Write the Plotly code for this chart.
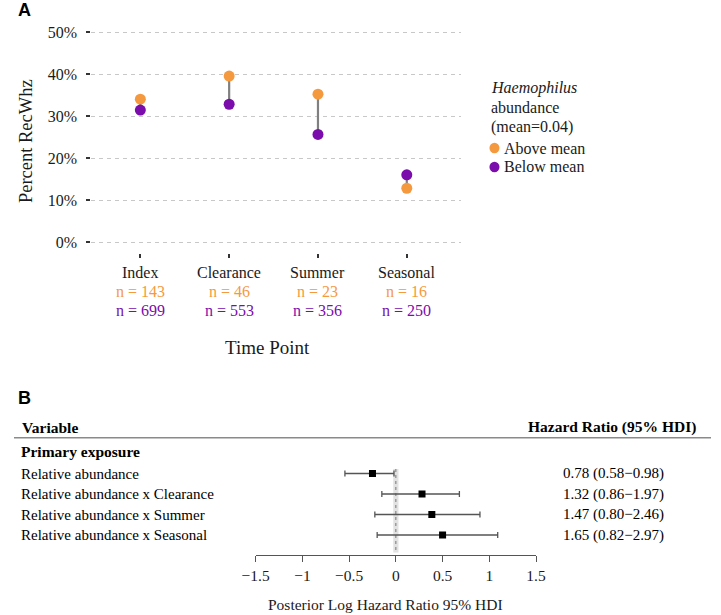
import plotly.graph_objects as go

# ---------------- data ----------------
categories = ["Index", "Clearance", "Summer", "Seasonal"]
above_pct = [34.0, 39.5, 35.2, 12.8]
below_pct = [31.4, 32.8, 25.6, 16.0]
n_above = [143, 46, 23, 16]
n_below = [699, 553, 356, 250]
y_ticks = [0, 10, 20, 30, 40, 50]
y_tick_labels = ["0%", "10%", "20%", "30%", "40%", "50%"]
legend_title = ["<i>Haemophilus</i>", "abundance", "(mean=0.04)"]
legend_labels = ["Above mean", "Below mean"]

variables = ["Relative abundance", "Relative abundance x Clearance",
             "Relative abundance x Summer", "Relative abundance x Seasonal"]
log_hr = [-0.25, 0.28, 0.385, 0.50]
log_lo = [-0.545, -0.15, -0.225, -0.20]
log_hi = [-0.02, 0.68, 0.90, 1.09]
hr_text = ["0.78 (0.58\u22120.98)", "1.32 (0.86\u22121.97)",
           "1.47 (0.80\u22122.46)", "1.65 (0.82\u22122.97)"]
f_ticks = [-1.5, -1.0, -0.5, 0, 0.5, 1.0, 1.5]
f_tick_labels = ["\u22121.5", "\u22121", "\u22120.5", "0", "0.5", "1", "1.5"]

# ---------------- style ----------------
W, H = 721, 615
ORANGE = "#F5993F"
PURPLE = "#7A0DAB"
SERIF = "Liberation Serif"
SANS = "Liberation Sans"
TXT = "#1a1a1a"


def px(x):
    return x / W


def py(y):
    return 1 - y / H


fig = go.Figure()
xpos = list(range(len(categories)))

# connecting segments
seg_x, seg_y = [], []
for i, (a, b) in enumerate(zip(above_pct, below_pct)):
    seg_x += [i, i, None]
    seg_y += [a, b, None]
fig.add_trace(go.Scatter(x=seg_x, y=seg_y, mode="lines",
                         line=dict(color="#808080", width=2.2),
                         showlegend=False, hoverinfo="skip",
                         xaxis="x", yaxis="y"))
fig.add_trace(go.Scatter(x=xpos, y=above_pct, mode="markers", name="Above mean",
                         marker=dict(color=ORANGE, size=11), showlegend=False,
                         xaxis="x", yaxis="y"))
fig.add_trace(go.Scatter(x=xpos, y=below_pct, mode="markers", name="Below mean",
                         marker=dict(color=PURPLE, size=11), showlegend=False,
                         xaxis="x", yaxis="y"))

# forest plot
rows = list(range(len(variables)))
fig.add_trace(go.Scatter(
    x=log_hr, y=rows, mode="markers",
    marker=dict(color="black", symbol="square", size=7),
    error_x=dict(type="data", symmetric=False,
                 array=[h - e for h, e in zip(log_hi, log_hr)],
                 arrayminus=[e - l for e, l in zip(log_hr, log_lo)],
                 color="#555555", thickness=1.3, width=3),
    showlegend=False, xaxis="x2", yaxis="y2"))

annotations = []
shapes = []
# panel letters
annotations.append(dict(text="<b>A</b>", x=px(2), y=py(10), xref="paper", yref="paper",
                        xanchor="left", yanchor="middle", showarrow=False,
                        font=dict(family=SANS, size=18, color="black")))
annotations.append(dict(text="<b>B</b>", x=px(2), y=py(398), xref="paper", yref="paper",
                        xanchor="left", yanchor="middle", showarrow=False,
                        font=dict(family=SANS, size=18, color="black")))

# category tick labels (three lines)
for i, c in enumerate(categories):
    for txt, ypix, col in [(c, 272, TXT),
                           (f"n = {n_above[i]}", 291, ORANGE),
                           (f"n = {n_below[i]}", 310, PURPLE)]:
        annotations.append(dict(text=txt, x=i, y=py(ypix), xref="x", yref="paper",
                                xanchor="center", yanchor="middle", showarrow=False,
                                font=dict(family=SERIF, size=16, color=col)))

annotations.append(dict(text="Time Point", x=px(262), y=py(347), xref="paper", yref="paper",
                        xanchor="center", yanchor="middle", showarrow=False,
                        font=dict(family=SERIF, size=19, color=TXT)))
annotations.append(dict(text="Percent RecWhz", x=px(12.5), y=py(141), xref="paper", yref="paper",
                        xanchor="center", yanchor="middle", showarrow=False, textangle=-90,
                        font=dict(family=SERIF, size=18.5, color=TXT)))

# legend (manual, ggplot style)
for k, t in enumerate(legend_title):
    annotations.append(dict(text=t, x=px(491), y=py(88 + 19.5 * k), xref="paper", yref="paper",
                            xanchor="left", yanchor="middle", showarrow=False,
                            font=dict(family=SERIF, size=16, color=TXT)))
for k, (lab, col) in enumerate(zip(legend_labels, [ORANGE, PURPLE])):
    yc = 148 + 19 * k
    annotations.append(dict(text=lab, x=px(505), y=py(yc), xref="paper", yref="paper",
                            xanchor="left", yanchor="middle", showarrow=False,
                            font=dict(family=SERIF, size=16, color=TXT)))
    shapes.append(dict(type="circle", xref="paper", yref="paper",
                       x0=px(497 - 5.2), x1=px(497 + 5.2), y0=py(yc + 5.2), y1=py(yc - 5.2),
                       fillcolor=col, line=dict(width=0)))

# forest table texts
annotations.append(dict(text="<b>Variable</b>", x=px(6), y=py(427), xref="paper", yref="paper",
                        xanchor="left", yanchor="middle", showarrow=False,
                        font=dict(family=SERIF, size=15.5, color="black")))
annotations.append(dict(text="<b>Hazard Ratio (95% HDI)</b>", x=px(708), y=py(427),
                        xref="paper", yref="paper", xanchor="right", yanchor="middle",
                        showarrow=False, font=dict(family=SERIF, size=15.5, color="black")))
annotations.append(dict(text="<b>Primary exposure</b>", x=px(5), y=py(451.5), xref="paper",
                        yref="paper", xanchor="left", yanchor="middle", showarrow=False,
                        font=dict(family=SERIF, size=15.5, color="black")))
for i, v in enumerate(variables):
    annotations.append(dict(text=v, x=px(5), y=i, xref="paper", yref="y2",
                            xanchor="left", yanchor="middle", showarrow=False,
                            font=dict(family=SERIF, size=15, color="black")))
    annotations.append(dict(text=hr_text[i], x=px(566), y=i, xref="paper", yref="y2",
                            xanchor="left", yanchor="middle", showarrow=False,
                            font=dict(family=SERIF, size=15, color="black")))
annotations.append(dict(text="Posterior Log Hazard Ratio 95% HDI", x=px(384), y=py(604),
                        xref="paper", yref="paper", xanchor="center", yanchor="middle",
                        showarrow=False, font=dict(family=SERIF, size=15.5, color=TXT)))

shapes += [
    dict(type="line", xref="paper", yref="paper", x0=0, x1=1, y0=py(437.7), y1=py(437.7),
         line=dict(color="#8a8a8a", width=1.5)),
    dict(type="rect", xref="x2", yref="y2", x0=-0.028, x1=0.028, y0=-0.22, y1=3.85,
         fillcolor="#e2e2e2", line=dict(width=0), layer="below"),
    dict(type="line", xref="x2", yref="y2", x0=0, x1=0, y0=-0.22, y1=3.85,
         line=dict(color="#777777", width=1, dash="dot"), layer="below"),
]

# axis geometry (pixels)
A_L, A_R, A_T, A_B = 80, 462, 21.5, 252.5
cat0, step = 130.7, 91.87
B_L, B_R, B_T, B_B = 250, 540, 465, 555
row0, rstep = 473.5, 20.5

fig.update_layout(
    width=W, height=H, autosize=False,
    margin=dict(l=0, r=0, t=0, b=0),
    paper_bgcolor="white", plot_bgcolor="white",
    font=dict(family=SERIF, size=16, color=TXT),
    showlegend=False,
    xaxis=dict(domain=[px(A_L), px(A_R)],
               range=[(A_L - cat0) / step, (A_R - cat0) / step],
               tickvals=xpos, ticktext=["" for _ in xpos],
               ticks="outside", ticklen=4, tickwidth=2, tickcolor="#333333",
               showgrid=False, zeroline=False, showline=False, fixedrange=True),
    yaxis=dict(domain=[py(A_B), py(A_T)], range=[-2.5, 52.5],
               tickvals=y_ticks, ticktext=y_tick_labels,
               ticks="outside", ticklen=4, tickwidth=2, tickcolor="#333333",
               ticklabelstandoff=6,
               tickfont=dict(family=SERIF, size=16, color=TXT),
               showgrid=True, gridcolor="#c8c8c8", gridwidth=1, griddash="4px,4px",
               zeroline=False, showline=False, fixedrange=True),
    xaxis2=dict(domain=[px(B_L), px(B_R)], range=[-1.5, 1.5], anchor="y2",
                tickvals=f_ticks, ticktext=f_tick_labels,
                ticks="outside", ticklen=6, tickwidth=1, tickcolor="#555555",
                showline=True, linecolor="#555555", linewidth=1,
                tickfont=dict(family=SERIF, size=15.5, color=TXT),
                showgrid=False, zeroline=False, fixedrange=True),
    yaxis2=dict(domain=[py(B_B), py(B_T)],
                range=[(B_B - row0) / rstep, (B_T - row0) / rstep],
                anchor="x2", visible=False, fixedrange=True),
    annotations=annotations,
    shapes=shapes,
)

fig.write_html("out.html", config={"displayModeBar": False},
               post_script="document.body.style.margin='0';document.body.style.overflow='hidden';")
